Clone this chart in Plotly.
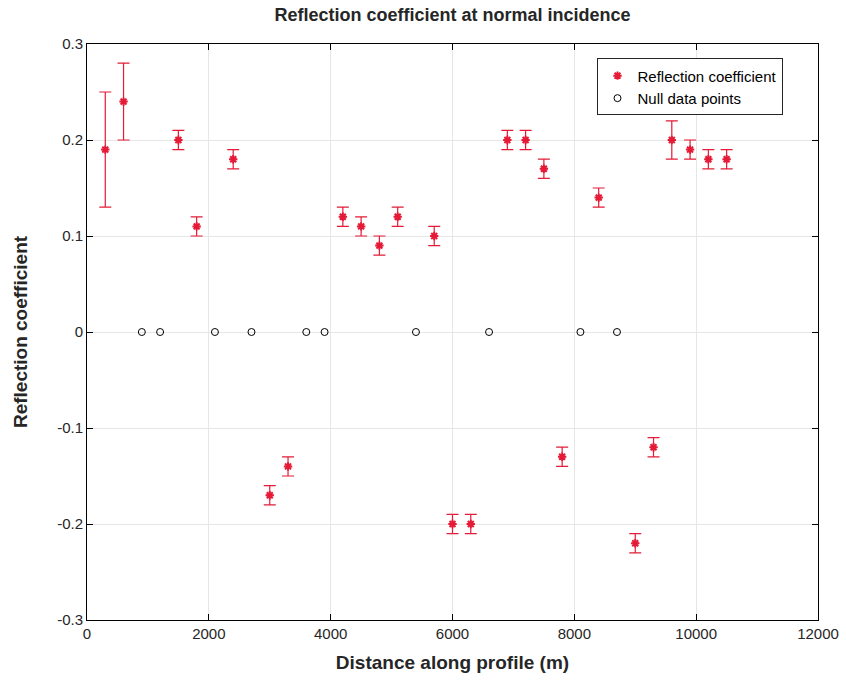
import plotly.graph_objects as go

dist = [300, 600, 1500, 1800, 2400, 3000, 3300, 4200, 4500, 4800, 5100, 5700, 6000, 6300,
        6900, 7200, 7500, 7800, 8400, 9000, 9300, 9600, 9900, 10200, 10500]
refl = [0.19, 0.24, 0.20, 0.11, 0.18, -0.17, -0.14, 0.12, 0.11, 0.09, 0.12, 0.10, -0.20, -0.20,
        0.20, 0.20, 0.17, -0.13, 0.14, -0.22, -0.12, 0.20, 0.19, 0.18, 0.18]
err = [0.06, 0.04, 0.01, 0.01, 0.01, 0.01, 0.01, 0.01, 0.01, 0.01, 0.01, 0.01, 0.01, 0.01,
       0.01, 0.01, 0.01, 0.01, 0.01, 0.01, 0.01, 0.02, 0.01, 0.01, 0.01]
null_x = [900, 1200, 2100, 2700, 3600, 3900, 5400, 6600, 8100, 8700]
null_y = [0] * len(null_x)

x_ticks = [0, 2000, 4000, 6000, 8000, 10000, 12000]
x_labels = ["0", "2000", "4000", "6000", "8000", "10000", "12000"]
y_ticks = [-0.3, -0.2, -0.1, 0, 0.1, 0.2, 0.3]
y_labels = ["-0.3", "-0.2", "-0.1", "0", "0.1", "0.2", "0.3"]

red = "#e41a36"
font = "Liberation Sans, Arial, sans-serif"

fig = go.Figure()
fig.add_trace(go.Scatter(
    x=dist, y=refl, mode="markers", name="Reflection coefficient",
    marker=dict(symbol="asterisk-open", size=7, color=red, line=dict(color=red, width=2)),
    error_y=dict(type="data", array=err, visible=True, color=red, thickness=1.2, width=6),
))
fig.add_trace(go.Scatter(
    x=null_x, y=null_y, mode="markers", name="Null data points",
    marker=dict(symbol="circle-open", size=7, color="black", line=dict(color="black", width=1)),
))

axis_common = dict(
    showline=True, linecolor="black", linewidth=1, mirror="ticks",
    ticks="inside", ticklen=6, tickcolor="black", automargin=False,
    showgrid=True, gridcolor="#e6e6e6", gridwidth=1, zeroline=False,
    tickfont=dict(size=15, color="#262626", family=font),
)
fig.update_xaxes(range=[0, 12000], tickvals=x_ticks, ticktext=x_labels,
                 title=dict(text="<b>Distance along profile (m)</b>",
                 font=dict(size=19, color="#262626", family=font), standoff=14), **axis_common)
fig.update_yaxes(range=[-0.3, 0.3], tickvals=y_ticks, ticktext=y_labels,
                 title=dict(text="<b>Reflection coefficient</b>",
                 font=dict(size=19, color="#262626", family=font), standoff=24), **axis_common)

fig.update_layout(
    width=846, height=681,
    margin=dict(l=87, r=28, t=44, b=61),
    paper_bgcolor="white", plot_bgcolor="white",
    title=dict(text="<b>Reflection coefficient at normal incidence</b>", x=0.5, xanchor="center",
               xref="paper", y=0.987, yanchor="top", font=dict(size=18, color="#262626", family=font)),
    showlegend=True,
    legend=dict(x=0.697, y=0.975, xanchor="left", yanchor="top", bgcolor="white",
                bordercolor="#262626", borderwidth=1, font=dict(size=15, color="black", family=font)),
)

fig.write_html("out.html")
